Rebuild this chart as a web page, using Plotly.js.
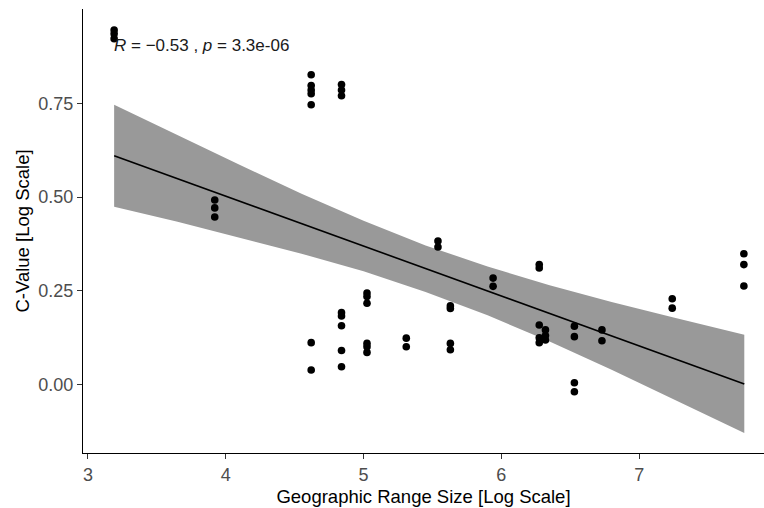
<!DOCTYPE html>
<html>
<head>
<meta charset="utf-8">
<script src="https://cdn.plot.ly/plotly-3.0.1.min.js"></script>
<style>html,body{margin:0;padding:0;background:#fff;}#chart{width:764px;height:508px;}</style>
</head>
<body>
<div id="chart"></div>
<script>
// Observed points: geographic range size (log) vs C-value (log)
const pointX = [
  3.19, 3.19, 3.19,
  3.92, 3.92, 3.92,
  4.62, 4.62, 4.62, 4.62, 4.62, 4.62, 4.62,
  4.84, 4.84, 4.84, 4.84, 4.84, 4.84, 4.84, 4.84,
  5.025, 5.025, 5.025, 5.025, 5.025, 5.025,
  5.31, 5.31,
  5.54, 5.54,
  5.63, 5.63, 5.63, 5.63,
  5.94, 5.94,
  6.275, 6.275, 6.275, 6.275, 6.275,
  6.32, 6.32, 6.32,
  6.53, 6.53, 6.53, 6.53,
  6.73, 6.73,
  7.24, 7.24,
  7.76, 7.76, 7.76
];
const pointY = [
  0.945, 0.935, 0.922,
  0.492, 0.471, 0.447,
  0.826, 0.797, 0.785, 0.775, 0.746, 0.112, 0.039,
  0.800, 0.785, 0.770, 0.192, 0.183, 0.157, 0.091, 0.048,
  0.244, 0.235, 0.217, 0.110, 0.101, 0.086,
  0.124, 0.101,
  0.383, 0.367,
  0.210, 0.203, 0.110, 0.093,
  0.284, 0.262,
  0.320, 0.311, 0.159, 0.125, 0.112,
  0.146, 0.131, 0.119,
  0.156, 0.128, 0.005, -0.019,
  0.146, 0.117,
  0.229, 0.204,
  0.349, 0.320, 0.263
];

// Linear fit and its confidence band
const fitX     = [3.19, 3.65, 4.10, 4.55, 5.00, 5.45, 5.90, 6.35, 6.80, 7.25, 7.763];
const fitY     = [0.610, 0.549, 0.489, 0.429, 0.369, 0.309, 0.250, 0.190, 0.130, 0.070, 0.002];
const bandUpper = [0.746, 0.665, 0.586, 0.509, 0.437, 0.371, 0.315, 0.265, 0.220, 0.179, 0.133];
const bandLower = [0.474, 0.434, 0.392, 0.349, 0.302, 0.247, 0.185, 0.115, 0.040, -0.039, -0.129];

const xTickVals = [3, 4, 5, 6, 7];
const xTickText = ["3", "4", "5", "6", "7"];
const yTickVals = [0, 0.25, 0.5, 0.75];
const yTickText = ["0.00", "0.25", "0.50", "0.75"];

const statLabel = "<i>R</i> = \u22120.53 , <i>p</i> = 3.3e-06";
const statPos = {x: 3.175, y: 0.905};

const FONT = "Liberation Sans, Arial, sans-serif";

const bandTrace = {
  x: fitX.concat(fitX.slice().reverse()),
  y: bandUpper.concat(bandLower.slice().reverse()),
  type: "scatter", mode: "lines",
  fill: "toself", fillcolor: "#999999",
  line: {width: 0, color: "rgba(0,0,0,0)"},
  hoverinfo: "skip", showlegend: false
};
const pointTrace = {
  x: pointX, y: pointY, type: "scatter", mode: "markers",
  marker: {color: "#000000", size: 7.6, line: {width: 0}},
  showlegend: false
};
const lineTrace = {
  x: fitX, y: fitY, type: "scatter", mode: "lines",
  line: {color: "#000000", width: 1.6},
  showlegend: false
};

const layout = {
  width: 764, height: 508,
  margin: {l: 83, r: 0, t: 9, b: 55, pad: 0},
  paper_bgcolor: "#ffffff", plot_bgcolor: "#ffffff",
  font: {family: FONT, color: "#000000"},
  showlegend: false,
  xaxis: {
    range: [2.964, 7.906],
    tickvals: xTickVals, ticktext: xTickText,
    showgrid: false, zeroline: false,
    showline: true, linecolor: "#000000", linewidth: 1,
    ticks: "outside", ticklen: 5, tickwidth: 1, tickcolor: "#333333",
    tickfont: {family: FONT, size: 18, color: "#4d4d4d"},
    title: {text: "Geographic Range Size [Log Scale]", font: {family: FONT, size: 18.5, color: "#000000"}, standoff: 6}
  },
  yaxis: {
    range: [-0.182, 1.001],
    tickvals: yTickVals, ticktext: yTickText,
    showgrid: false, zeroline: false,
    showline: true, linecolor: "#000000", linewidth: 1,
    ticks: "outside", ticklen: 5, tickwidth: 1, tickcolor: "#333333",
    tickfont: {family: FONT, size: 18, color: "#4d4d4d"},
    title: {text: "C-Value [Log Scale]", font: {family: FONT, size: 18.5, color: "#000000"}, standoff: 3}
  },
  annotations: [{
    x: statPos.x, y: statPos.y, xref: "x", yref: "y",
    xanchor: "left", yanchor: "middle",
    text: statLabel, showarrow: false,
    font: {family: FONT, size: 17, color: "#1a1a1a"}
  }]
};

Plotly.newPlot("chart", [bandTrace, lineTrace, pointTrace], layout, {displayModeBar: false, staticPlot: true});
</script>
</body>
</html>
